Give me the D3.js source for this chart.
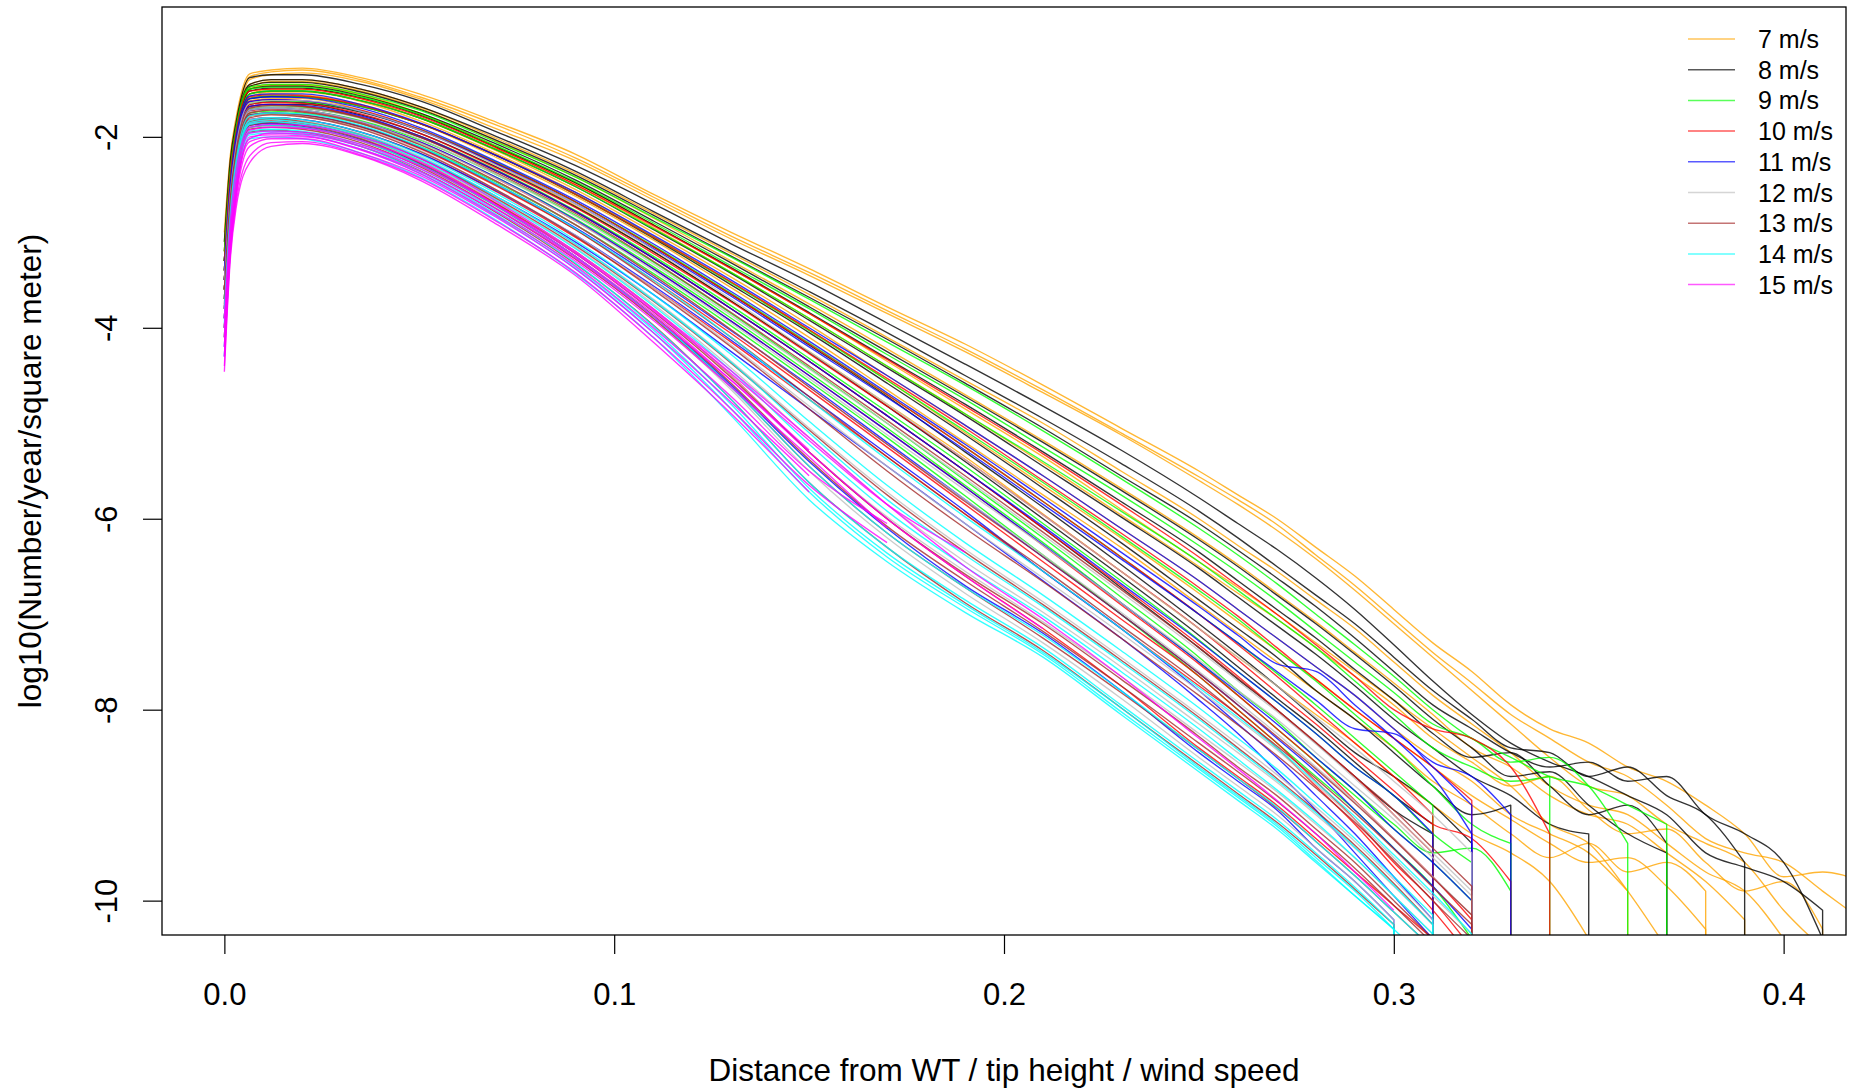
<!DOCTYPE html>
<html><head><meta charset="utf-8">
<script src="https://cdn.jsdelivr.net/npm/d3@7"></script>
<style>
body{margin:0;background:#fff}
svg{display:block}
text{font-family:"Liberation Sans",Arial,Helvetica,sans-serif;fill:#000}
</style>
</head><body>
<svg id="chart" width="1850" height="1091"></svg>
<script>
// shared x grid (distance / tip height / wind speed)
const xGrid = [0,0.0015,0.003,0.0065,0.012,0.02,0.035,0.05,0.07,0.09,0.11,0.13,0.15,0.17,0.19,0.21,0.23,0.25,
  0.26,0.27,0.28,0.29,0.30,0.31,0.32,0.33,0.34,0.35,0.36,0.37,0.38,0.39,0.40,0.41,0.42];

const speeds = ["7 m/s","8 m/s","9 m/s","10 m/s","11 m/s","12 m/s","13 m/s","14 m/s","15 m/s"];
const colors = ["#FFA500","#000000","#00FF00","#FF0000","#0000FF","#BEBEBE","#A52A2A","#00FFFF","#FF00FF"];
const dropAtEnd = [1,1,1,1,1,1,1,1,0];

const xTicks = [0,0.1,0.2,0.3,0.4];
const xTickLabels = ["0.0","0.1","0.2","0.3","0.4"];
const yTicks = [-2,-4,-6,-8,-10];
const yTickLabels = ["-2","-4","-6","-8","-10"];

// log10(Number/year/square meter), one array per curve on xGrid
const ws7 = [
 [-3.0,-2.2,-1.8,-1.34,-1.3,-1.28,-1.38,-1.55,-1.85,-2.18,-2.6,-3.0,-3.38,-3.78,-4.17,-4.6,-5.05,-5.5,-5.75,-6.0,-6.3,-6.6,-6.95,-7.3,-7.6,-7.95,-8.2,-8.35,-8.6,-8.75,-9.0,-9.3,-9.75,-9.7,-9.8],
 [-3.2,-2.3,-1.9,-1.4,-1.35,-1.33,-1.42,-1.6,-1.92,-2.25,-2.66,-3.07,-3.45,-3.85,-4.25,-4.68,-5.12,-5.6,-5.85,-6.12,-6.42,-6.75,-7.1,-7.45,-7.8,-8.15,-8.5,-8.8,-8.9,-9.2,-9.4,-9.6,-10.1,-10.5],
 [-3.3,-2.4,-1.95,-1.45,-1.4,-1.4,-1.5,-1.68,-2.02,-2.38,-2.8,-3.22,-3.65,-4.1,-4.55,-5.0,-5.5,-6.0,-6.28,-6.55,-6.85,-7.15,-7.5,-7.85,-8.15,-8.45,-8.8,-9.0,-9.1,-9.4,-9.7,-9.9,-10.4],
 [-3.4,-2.5,-2.05,-1.5,-1.45,-1.45,-1.55,-1.75,-2.1,-2.48,-2.92,-3.38,-3.85,-4.35,-4.85,-5.35,-5.9,-6.45,-6.72,-7.0,-7.3,-7.6,-7.9,-8.2,-8.5,-8.8,-9.2,-9.4,-9.9,-10.5],
 [-3.5,-2.6,-2.1,-1.55,-1.5,-1.5,-1.6,-1.8,-2.15,-2.55,-3.0,-3.47,-3.97,-4.5,-5.02,-5.55,-6.1,-6.65,-6.95,-7.25,-7.55,-7.85,-8.2,-8.5,-8.75,-9.1,-9.3,-9.5,-9.9],
 [-3.6,-2.7,-2.2,-1.6,-1.55,-1.56,-1.66,-1.86,-2.22,-2.62,-3.08,-3.58,-4.1,-4.65,-5.2,-5.75,-6.3,-6.9,-7.2,-7.5,-7.8,-8.1,-8.4,-8.75,-9.0,-9.3,-9.55,-9.4,-9.7,-9.6,-9.9],
 [-3.5,-2.6,-2.15,-1.62,-1.6,-1.6,-1.72,-1.92,-2.3,-2.72,-3.2,-3.72,-4.25,-4.8,-5.35,-5.95,-6.55,-7.15,-7.45,-7.75,-8.05,-8.35,-8.7,-9.0,-9.3,-9.5,-9.8,-10.4],
 [-3.4,-2.5,-2.0,-1.48,-1.42,-1.42,-1.52,-1.7,-2.05,-2.42,-2.85,-3.3,-3.75,-4.22,-4.7,-5.18,-5.68,-6.2,-6.48,-6.78,-7.08,-7.4,-7.72,-8.05,-8.4,-8.6,-8.9,-9.1,-9.2,-9.5,-9.8,-10.2],
 [-3.5,-2.6,-2.1,-1.58,-1.53,-1.53,-1.63,-1.83,-2.18,-2.58,-3.04,-3.52,-4.02,-4.55,-5.1,-5.65,-6.2,-6.78,-7.08,-7.38,-7.68,-8.0,-8.3,-8.6,-8.9,-9.15,-9.4,-9.6,-9.55,-9.85,-10.3],
 [-3.1,-2.25,-1.85,-1.37,-1.32,-1.3,-1.4,-1.58,-1.88,-2.22,-2.63,-3.04,-3.42,-3.82,-4.22,-4.65,-5.1,-5.56,-5.8,-6.06,-6.38,-6.7,-7.05,-7.4,-7.72,-8.05,-8.3,-8.55,-8.7,-9.0,-9.35,-9.5,-9.6,-9.9,-10.2],
 [-3.4,-2.5,-2.05,-1.5,-1.46,-1.46,-1.56,-1.76,-2.12,-2.5,-2.95,-3.42,-3.9,-4.4,-4.9,-5.42,-5.96,-6.5,-6.78,-7.05,-7.35,-7.65,-7.95,-8.3,-8.55,-8.8,-8.7,-9.05,-9.3,-9.25,-9.6,-9.9,-9.8,-10.3]
];
const ws8 = [
 [-3.1,-2.25,-1.85,-1.38,-1.35,-1.35,-1.45,-1.62,-1.95,-2.3,-2.7,-3.12,-3.52,-3.95,-4.38,-4.82,-5.28,-5.78,-6.05,-6.32,-6.62,-6.95,-7.32,-7.7,-8.05,-8.35,-8.55,-8.7,-8.9,-9.1,-9.5,-9.65,-9.8,-10.1],
 [-3.2,-2.35,-1.9,-1.45,-1.4,-1.4,-1.5,-1.68,-2.0,-2.36,-2.78,-3.2,-3.62,-4.05,-4.5,-4.95,-5.42,-5.92,-6.2,-6.5,-6.8,-7.1,-7.45,-7.8,-8.1,-8.4,-8.45,-8.7,-8.6,-8.9,-9.1,-9.6],
 [-3.3,-2.4,-2.0,-1.5,-1.47,-1.47,-1.57,-1.75,-2.08,-2.45,-2.88,-3.32,-3.78,-4.25,-4.72,-5.2,-5.7,-6.22,-6.5,-6.8,-7.1,-7.42,-7.75,-8.1,-8.4,-8.7,-8.65,-9.0,-9.3,-9.5],
 [-3.4,-2.5,-2.05,-1.55,-1.52,-1.52,-1.62,-1.8,-2.14,-2.52,-2.97,-3.43,-3.92,-4.42,-4.92,-5.45,-5.98,-6.52,-6.82,-7.12,-7.42,-7.75,-8.1,-8.4,-8.7,-8.9,-9.2,-9.3],
 [-3.5,-2.6,-2.1,-1.6,-1.58,-1.58,-1.68,-1.86,-2.2,-2.6,-3.06,-3.55,-4.05,-4.58,-5.12,-5.68,-6.25,-6.85,-7.15,-7.45,-7.8,-8.1,-8.45,-8.8,-9.1,-9.0],
 [-3.6,-2.7,-2.2,-1.66,-1.63,-1.64,-1.74,-1.93,-2.28,-2.68,-3.15,-3.65,-4.18,-4.72,-5.3,-5.88,-6.48,-7.1,-7.42,-7.75,-8.1,-8.45,-8.7,-9.0,-9.4],
 [-3.5,-2.65,-2.2,-1.7,-1.68,-1.7,-1.8,-2.0,-2.36,-2.78,-3.27,-3.8,-4.35,-4.92,-5.5,-6.1,-6.72,-7.35,-7.68,-8.0,-8.35,-8.7,-9.05,-9.3],
 [-3.3,-2.45,-2.0,-1.52,-1.49,-1.49,-1.59,-1.77,-2.11,-2.48,-2.92,-3.37,-3.84,-4.32,-4.8,-5.3,-5.82,-6.35,-6.65,-6.95,-7.25,-7.58,-7.9,-8.25,-8.5,-8.45,-8.8,-9.1,-9.0,-9.4],
 [-3.6,-2.7,-2.2,-1.68,-1.66,-1.66,-1.77,-1.96,-2.32,-2.73,-3.2,-3.72,-4.26,-4.82,-5.4,-6.0,-6.6,-7.22,-7.55,-7.88,-8.2,-8.55,-8.9,-9.2],
 [-3.3,-2.4,-1.95,-1.47,-1.43,-1.43,-1.53,-1.71,-2.04,-2.4,-2.82,-3.25,-3.68,-4.12,-4.58,-5.05,-5.55,-6.05,-6.33,-6.62,-6.92,-7.25,-7.6,-7.95,-8.2,-8.45,-8.6,-8.55,-8.75,-8.7,-9.1,-9.3,-9.6,-10.4]
];
const ws9 = [
 [-3.2,-2.35,-1.9,-1.48,-1.45,-1.45,-1.55,-1.72,-2.06,-2.42,-2.84,-3.26,-3.7,-4.15,-4.6,-5.08,-5.58,-6.1,-6.38,-6.68,-7.0,-7.32,-7.65,-8.0,-8.3,-8.5,-8.7,-8.8,-9.0,-9.2],
 [-3.3,-2.45,-2.0,-1.55,-1.52,-1.52,-1.62,-1.8,-2.14,-2.52,-2.96,-3.42,-3.9,-4.4,-4.9,-5.4,-5.92,-6.45,-6.75,-7.05,-7.35,-7.7,-8.05,-8.4,-8.6,-8.75,-8.7],
 [-3.4,-2.5,-2.05,-1.6,-1.57,-1.58,-1.68,-1.86,-2.2,-2.6,-3.05,-3.53,-4.03,-4.55,-5.08,-5.62,-6.18,-6.75,-7.05,-7.38,-7.7,-8.05,-8.4,-8.8,-9.2,-9.4],
 [-3.5,-2.6,-2.1,-1.65,-1.62,-1.63,-1.73,-1.92,-2.27,-2.68,-3.14,-3.64,-4.16,-4.7,-5.25,-5.82,-6.4,-7.0,-7.3,-7.62,-7.95,-8.3,-8.65,-9.0],
 [-3.6,-2.7,-2.2,-1.7,-1.68,-1.69,-1.8,-1.99,-2.35,-2.77,-3.25,-3.77,-4.32,-4.88,-5.45,-6.05,-6.65,-7.27,-7.6,-7.92,-8.25,-8.6,-8.9,-9.3,-9.6],
 [-3.6,-2.75,-2.25,-1.75,-1.73,-1.75,-1.86,-2.06,-2.43,-2.86,-3.36,-3.9,-4.47,-5.05,-5.65,-6.25,-6.88,-7.5,-7.85,-8.2,-8.55,-8.9,-9.25,-9.6,-10.0],
 [-3.7,-2.8,-2.3,-1.78,-1.76,-1.78,-1.9,-2.1,-2.48,-2.92,-3.43,-3.98,-4.56,-5.15,-5.76,-6.38,-7.0,-7.65,-8.0,-8.35,-8.7,-9.05,-9.45,-9.85,-10.4],
 [-3.3,-2.4,-1.95,-1.5,-1.48,-1.48,-1.58,-1.76,-2.1,-2.47,-2.9,-3.35,-3.8,-4.28,-4.75,-5.25,-5.75,-6.28,-6.56,-6.86,-7.18,-7.5,-7.82,-8.15,-8.3,-8.55,-8.5,-8.8,-9.4],
 [-3.7,-2.75,-2.25,-1.72,-1.7,-1.72,-1.83,-2.03,-2.4,-2.82,-3.31,-3.85,-4.42,-5.0,-5.6,-6.2,-6.82,-7.45,-7.8,-8.12,-8.5,-8.85,-9.2,-9.5,-9.45,-9.9]
];
const ws10 = [
 [-3.3,-2.4,-1.95,-1.52,-1.5,-1.5,-1.6,-1.78,-2.12,-2.5,-2.93,-3.38,-3.85,-4.33,-4.82,-5.32,-5.85,-6.4,-6.7,-7.0,-7.32,-7.65,-8.0,-8.2,-8.3,-8.6,-9.3],
 [-3.4,-2.5,-2.05,-1.58,-1.56,-1.57,-1.67,-1.86,-2.2,-2.6,-3.05,-3.52,-4.02,-4.53,-5.05,-5.6,-6.15,-6.72,-7.02,-7.35,-7.68,-8.0,-8.3,-8.6,-8.95],
 [-3.5,-2.6,-2.1,-1.63,-1.61,-1.62,-1.72,-1.92,-2.28,-2.68,-3.15,-3.65,-4.17,-4.7,-5.25,-5.82,-6.4,-7.0,-7.32,-7.65,-8.0,-8.35,-8.7,-9.1],
 [-3.6,-2.7,-2.2,-1.68,-1.66,-1.68,-1.79,-1.99,-2.36,-2.78,-3.27,-3.8,-4.35,-4.92,-5.5,-6.1,-6.7,-7.32,-7.65,-8.0,-8.35,-8.7,-9.1,-9.5],
 [-3.7,-2.75,-2.25,-1.73,-1.71,-1.73,-1.85,-2.05,-2.44,-2.88,-3.38,-3.93,-4.5,-5.08,-5.67,-6.28,-6.9,-7.52,-7.85,-8.2,-8.55,-8.95,-9.35,-9.75,-10.2],
 [-3.8,-2.85,-2.3,-1.78,-1.76,-1.78,-1.9,-2.12,-2.52,-2.97,-3.5,-4.06,-4.65,-5.25,-5.85,-6.45,-7.05,-7.65,-8.0,-8.35,-8.75,-9.15,-9.6,-10.0,-10.5],
 [-3.8,-2.9,-2.35,-1.82,-1.8,-1.82,-1.95,-2.17,-2.58,-3.05,-3.58,-4.15,-4.75,-5.35,-5.95,-6.55,-7.15,-7.75,-8.05,-8.4,-8.8,-9.2,-9.65,-10.1,-10.6],
 [-3.6,-2.65,-2.15,-1.66,-1.64,-1.65,-1.76,-1.96,-2.33,-2.74,-3.22,-3.73,-4.27,-4.82,-5.38,-5.96,-6.55,-7.15,-7.48,-7.82,-8.15,-8.5,-8.85,-9.2,-9.35,-9.8],
 [-3.9,-2.95,-2.4,-1.85,-1.83,-1.86,-2.0,-2.25,-2.7,-3.2,-3.8,-4.5,-5.3,-6.0,-6.6,-7.15,-7.75,-8.4,-8.7,-9.0,-9.35,-9.7,-10.05,-10.4]
];
const ws11 = [
 [-3.4,-2.5,-2.0,-1.57,-1.55,-1.55,-1.66,-1.85,-2.2,-2.58,-3.03,-3.5,-4.0,-4.5,-5.02,-5.55,-6.1,-6.65,-6.95,-7.25,-7.55,-7.85,-8.2,-8.55,-8.7,-9.1],
 [-3.5,-2.6,-2.1,-1.63,-1.61,-1.62,-1.73,-1.93,-2.29,-2.7,-3.17,-3.67,-4.2,-4.73,-5.28,-5.85,-6.42,-7.0,-7.3,-7.6,-7.9,-8.2,-8.25,-8.6,-9.0],
 [-3.6,-2.7,-2.15,-1.68,-1.66,-1.67,-1.78,-1.99,-2.36,-2.78,-3.27,-3.8,-4.35,-4.92,-5.5,-6.08,-6.68,-7.28,-7.6,-7.92,-8.25,-8.6,-8.9,-9.3],
 [-3.7,-2.75,-2.2,-1.72,-1.7,-1.72,-1.84,-2.05,-2.43,-2.87,-3.38,-3.93,-4.5,-5.08,-5.67,-6.27,-6.88,-7.5,-7.82,-8.15,-8.5,-8.85,-9.25,-9.6,-10.0],
 [-3.8,-2.85,-2.3,-1.77,-1.75,-1.77,-1.89,-2.11,-2.5,-2.95,-3.47,-4.03,-4.6,-5.2,-5.8,-6.4,-7.0,-7.62,-7.95,-8.3,-8.65,-9.05,-9.45,-9.85,-10.3],
 [-3.9,-2.9,-2.35,-1.82,-1.8,-1.82,-1.95,-2.17,-2.57,-3.03,-3.56,-4.13,-4.72,-5.32,-5.92,-6.55,-7.15,-7.8,-8.15,-8.5,-8.9,-9.3,-9.75,-10.2],
 [-3.9,-2.95,-2.4,-1.86,-1.84,-1.87,-2.0,-2.22,-2.63,-3.1,-3.65,-4.25,-4.85,-5.45,-6.05,-6.65,-7.25,-7.9,-8.25,-8.65,-9.05,-9.5,-9.95,-10.4],
 [-3.5,-2.6,-2.1,-1.6,-1.58,-1.59,-1.7,-1.9,-2.26,-2.66,-3.12,-3.62,-4.14,-4.68,-5.22,-5.78,-6.35,-6.92,-7.22,-7.52,-7.6,-7.95,-8.3,-8.7,-9.3],
 [-4.0,-3.0,-2.45,-1.88,-1.86,-1.89,-2.03,-2.28,-2.73,-3.25,-3.88,-4.6,-5.4,-6.1,-6.7,-7.2,-7.8,-8.45,-8.75,-9.05,-9.45,-9.8,-10.2]
];
const ws12 = [
 [-3.5,-2.6,-2.1,-1.65,-1.62,-1.62,-1.73,-1.93,-2.3,-2.7,-3.18,-3.7,-4.25,-4.8,-5.38,-5.96,-6.55,-7.15,-7.45,-7.75,-8.08,-8.4,-8.75,-9.1,-9.5],
 [-3.6,-2.7,-2.15,-1.7,-1.68,-1.7,-1.81,-2.02,-2.4,-2.83,-3.33,-3.87,-4.43,-5.0,-5.58,-6.17,-6.77,-7.38,-7.7,-8.02,-8.36,-8.72,-9.1,-9.5,-9.9],
 [-3.7,-2.75,-2.2,-1.74,-1.72,-1.74,-1.86,-2.08,-2.47,-2.92,-3.45,-4.02,-4.62,-5.22,-5.8,-6.38,-6.98,-7.6,-7.92,-8.25,-8.6,-8.96,-9.35,-9.75,-10.15],
 [-3.8,-2.8,-2.25,-1.78,-1.76,-1.78,-1.91,-2.14,-2.56,-3.03,-3.58,-4.18,-4.82,-5.45,-6.05,-6.62,-7.2,-7.8,-8.1,-8.42,-8.78,-9.15,-9.55,-9.95,-10.35],
 [-3.9,-2.9,-2.35,-1.82,-1.8,-1.83,-1.97,-2.2,-2.63,-3.12,-3.7,-4.35,-5.05,-5.72,-6.32,-6.87,-7.45,-8.05,-8.36,-8.68,-9.02,-9.38,-9.78,-10.2],
 [-4.0,-2.95,-2.4,-1.86,-1.84,-1.87,-2.01,-2.25,-2.69,-3.2,-3.8,-4.5,-5.3,-5.98,-6.55,-7.08,-7.65,-8.25,-8.55,-8.86,-9.2,-9.55,-9.95,-10.35],
 [-4.0,-3.0,-2.45,-1.9,-1.88,-1.9,-2.04,-2.29,-2.74,-3.27,-3.9,-4.65,-5.5,-6.2,-6.78,-7.3,-7.88,-8.5,-8.8,-9.1,-9.45,-9.8,-10.2],
 [-3.7,-2.7,-2.2,-1.72,-1.7,-1.72,-1.84,-2.06,-2.44,-2.88,-3.4,-3.95,-4.53,-5.12,-5.7,-6.28,-6.88,-7.48,-7.8,-8.1,-8.45,-8.8,-9.15,-9.55,-9.95],
 [-3.9,-2.9,-2.35,-1.84,-1.82,-1.85,-1.99,-2.23,-2.66,-3.16,-3.75,-4.42,-5.15,-5.85,-6.45,-6.98,-7.55,-8.15,-8.45,-8.76,-9.1,-9.45,-9.85,-10.25]
];
const ws13 = [
 [-3.6,-2.65,-2.15,-1.7,-1.67,-1.68,-1.8,-2.0,-2.38,-2.8,-3.3,-3.84,-4.4,-4.97,-5.55,-6.14,-6.74,-7.35,-7.67,-8.0,-8.34,-8.7,-9.05,-9.45,-9.85],
 [-3.7,-2.75,-2.2,-1.75,-1.72,-1.74,-1.86,-2.08,-2.47,-2.92,-3.45,-4.02,-4.62,-5.22,-5.82,-6.4,-7.0,-7.62,-7.95,-8.28,-8.62,-8.98,-9.36,-9.76,-10.15],
 [-3.8,-2.85,-2.3,-1.8,-1.77,-1.79,-1.92,-2.15,-2.56,-3.04,-3.6,-4.2,-4.85,-5.5,-6.1,-6.66,-7.25,-7.85,-8.16,-8.48,-8.82,-9.18,-9.58,-10.0,-10.4],
 [-3.9,-2.9,-2.35,-1.84,-1.81,-1.84,-1.98,-2.22,-2.65,-3.14,-3.72,-4.37,-5.07,-5.75,-6.35,-6.9,-7.48,-8.08,-8.4,-8.72,-9.06,-9.42,-9.82,-10.25],
 [-4.0,-3.0,-2.4,-1.88,-1.85,-1.88,-2.02,-2.27,-2.71,-3.22,-3.83,-4.52,-5.3,-6.0,-6.58,-7.1,-7.68,-8.28,-8.6,-8.9,-9.25,-9.6,-10.0,-10.4],
 [-4.1,-3.05,-2.45,-1.92,-1.9,-1.92,-2.06,-2.31,-2.76,-3.28,-3.9,-4.62,-5.45,-6.15,-6.72,-7.25,-7.82,-8.42,-8.72,-9.03,-9.38,-9.74,-10.12,-10.5],
 [-4.1,-3.1,-2.5,-1.95,-1.93,-1.95,-2.1,-2.35,-2.8,-3.33,-3.97,-4.75,-5.62,-6.3,-6.88,-7.38,-7.98,-8.58,-8.88,-9.18,-9.52,-9.88,-10.25],
 [-3.75,-2.8,-2.25,-1.77,-1.75,-1.77,-1.89,-2.11,-2.51,-2.97,-3.52,-4.1,-4.72,-5.35,-5.95,-6.52,-7.12,-7.72,-8.05,-8.38,-8.72,-9.08,-9.46,-9.86,-10.25],
 [-4.0,-3.0,-2.42,-1.9,-1.88,-1.9,-2.04,-2.29,-2.73,-3.25,-3.87,-4.58,-5.38,-6.08,-6.65,-7.18,-7.75,-8.35,-8.65,-8.96,-9.3,-9.66,-10.05,-10.45]
];
const ws14 = [
 [-3.8,-2.8,-2.25,-1.78,-1.75,-1.76,-1.88,-2.1,-2.5,-2.96,-3.5,-4.1,-4.75,-5.38,-5.98,-6.55,-7.15,-7.77,-8.08,-8.4,-8.76,-9.12,-9.52,-9.92,-10.35],
 [-3.9,-2.9,-2.3,-1.83,-1.8,-1.82,-1.95,-2.18,-2.6,-3.08,-3.65,-4.28,-4.98,-5.65,-6.25,-6.8,-7.38,-7.98,-8.3,-8.62,-8.98,-9.35,-9.75,-10.15],
 [-4.0,-3.0,-2.4,-1.87,-1.84,-1.87,-2.0,-2.24,-2.67,-3.17,-3.77,-4.45,-5.22,-5.92,-6.5,-7.02,-7.6,-8.2,-8.52,-8.84,-9.18,-9.55,-9.95,-10.35],
 [-4.1,-3.05,-2.45,-1.9,-1.88,-1.9,-2.04,-2.29,-2.73,-3.25,-3.88,-4.62,-5.45,-6.15,-6.72,-7.22,-7.8,-8.42,-8.72,-9.02,-9.38,-9.74,-10.12,-10.5],
 [-4.2,-3.1,-2.5,-1.94,-1.92,-1.94,-2.08,-2.33,-2.78,-3.32,-3.98,-4.75,-5.62,-6.3,-6.85,-7.35,-7.95,-8.55,-8.85,-9.15,-9.5,-9.86,-10.25],
 [-4.3,-3.15,-2.55,-1.98,-1.96,-1.98,-2.13,-2.38,-2.84,-3.38,-4.05,-4.85,-5.72,-6.4,-6.93,-7.42,-8.02,-8.62,-8.92,-9.22,-9.58,-9.95,-10.3],
 [-4.3,-3.2,-2.6,-2.02,-2.0,-2.02,-2.17,-2.42,-2.88,-3.43,-4.1,-4.92,-5.8,-6.45,-6.98,-7.45,-8.05,-8.65,-8.95,-9.25,-9.6,-9.95,-10.3,-10.7],
 [-3.95,-2.95,-2.35,-1.85,-1.82,-1.85,-1.98,-2.21,-2.63,-3.12,-3.71,-4.36,-5.1,-5.8,-6.38,-6.92,-7.5,-8.1,-8.42,-8.74,-9.08,-9.44,-9.84,-10.25],
 [-4.2,-3.1,-2.5,-1.96,-1.94,-1.96,-2.1,-2.36,-2.82,-3.36,-4.02,-4.8,-5.68,-6.36,-6.9,-7.4,-7.98,-8.6,-8.9,-9.2,-9.55,-9.9,-10.3]
];
const ws15 = [
 [-3.9,-2.9,-2.35,-1.9,-1.87,-1.88,-2.0,-2.22,-2.68,-3.2,-3.8,-4.45,-5.15,-5.85,-6.5,-7.05,-7.65,-8.3,-8.62,-8.95,-9.3,-9.7,-10.1],
 [-4.1,-3.05,-2.5,-1.96,-1.94,-1.95,-2.08,-2.3,-2.72,-3.22,-3.82,-4.48,-5.18,-5.85,-6.35],
 [-4.2,-3.15,-2.6,-2.0,-1.98,-1.99,-2.13,-2.36,-2.79,-3.3,-3.92,-4.62,-5.35,-6.1],
 [-4.3,-3.2,-2.65,-2.1,-2.02,-2.02,-2.17,-2.4,-2.85,-3.38,-4.05,-4.78,-5.55],
 [-4.46,-3.3,-2.75,-2.27,-2.1,-2.07,-2.2,-2.45,-2.92,-3.45,-4.15,-4.9,-5.72],
 [-4.4,-3.25,-2.7,-2.2,-2.06,-2.05,-2.19,-2.43,-2.89,-3.42,-4.1,-4.85,-5.65,-6.25],
 [-4.0,-3.0,-2.45,-1.93,-1.9,-1.91,-2.04,-2.26,-2.72,-3.25,-3.85,-4.55,-5.3,-6.0,-6.6,-7.15],
 [-4.3,-3.2,-2.6,-2.05,-2.0,-2.0,-2.14,-2.38,-2.83,-3.35,-4.0,-4.72,-5.5,-6.05],
 [-4.2,-3.1,-2.55,-2.02,-1.96,-1.97,-2.1,-2.33,-2.76,-3.27,-3.88,-4.55,-5.28]
];

const groups = [ws7, ws8, ws9, ws10, ws11, ws12, ws13, ws14, ws15];

// ---------- layout ----------
const svg = d3.select("#chart");
const plot = {left:162, right:1846, top:7, bottom:935};
const x = d3.scaleLinear().domain([-0.016, 0.416]).range([plot.left, plot.right]);
const y = d3.scaleLinear().domain([-10.36, -0.64]).range([plot.bottom, plot.top]);

svg.append("defs").append("clipPath").attr("id","clip")
  .append("rect").attr("x",plot.left).attr("y",plot.top)
  .attr("width",plot.right-plot.left).attr("height",plot.bottom-plot.top);

const line = d3.line().x(d => x(d[0])).y(d => y(d[1])).curve(d3.curveMonotoneX);
const lineLayer = svg.append("g").attr("clip-path","url(#clip)");

groups.forEach((curves, gi) => {
  curves.forEach(vals => {
    const pts = vals.map((v, i) => [xGrid[i], v]);
    let d = line(pts);
    if (dropAtEnd[gi]) {
      const last = pts[pts.length - 1];
      d += `L${x(last[0])},${y(-12)}`;
    }
    lineLayer.append("path")
      .attr("d", d)
      .attr("fill","none")
      .attr("stroke", colors[gi])
      .attr("stroke-opacity", 0.8)
      .attr("stroke-width", 1.35)
      .attr("stroke-linejoin","round");
  });
});

// frame
svg.append("rect").attr("x",plot.left).attr("y",plot.top)
  .attr("width",plot.right-plot.left).attr("height",plot.bottom-plot.top)
  .attr("fill","none").attr("stroke","#000").attr("stroke-width",1.3);

// x axis
const xAxis = d3.axisBottom(x).tickValues(xTicks).tickSize(19).tickPadding(0)
  .tickFormat((d,i) => xTickLabels[i]);
const gx = svg.append("g").attr("transform",`translate(0,${plot.bottom})`).call(xAxis);
gx.select(".domain").remove();
gx.selectAll(".tick line").attr("stroke","#000").attr("stroke-width",1.2);
gx.selectAll(".tick text").attr("font-size",31).attr("dy",null).attr("y",70)
  .style("font-family",'"Liberation Sans",Arial,sans-serif');

// y axis
const yAxis = d3.axisLeft(y).tickValues(yTicks).tickSize(19).tickPadding(0)
  .tickFormat((d,i) => yTickLabels[i]);
const gy = svg.append("g").attr("transform",`translate(${plot.left},0)`).call(yAxis);
gy.select(".domain").remove();
gy.selectAll(".tick line").attr("stroke","#000").attr("stroke-width",1.2);
gy.selectAll(".tick text").attr("font-size",31).attr("x",null).attr("dy",null)
  .attr("text-anchor","middle")
  .attr("transform","translate(-45,0) rotate(-90)")
  .style("font-family",'"Liberation Sans",Arial,sans-serif');

// axis titles
svg.append("text").attr("x",(plot.left+plot.right)/2).attr("y",1081)
  .attr("text-anchor","middle").attr("font-size",31.5)
  .text("Distance from WT / tip height / wind speed");
svg.append("text").attr("transform",`translate(41,${(plot.top+plot.bottom)/2}) rotate(-90)`)
  .attr("text-anchor","middle").attr("font-size",31.5)
  .text("log10(Number/year/square meter)");

// legend
const legend = svg.append("g");
speeds.forEach((s, i) => {
  const ly = 39 + i * 30.7;
  legend.append("line").attr("x1",1688).attr("x2",1735).attr("y1",ly).attr("y2",ly)
    .attr("stroke",colors[i]).attr("stroke-opacity",0.65).attr("stroke-width",1.5);
  legend.append("text").attr("x",1758).attr("y",ly+9).attr("font-size",25)
    .text(s);
});
</script>
</body></html>
